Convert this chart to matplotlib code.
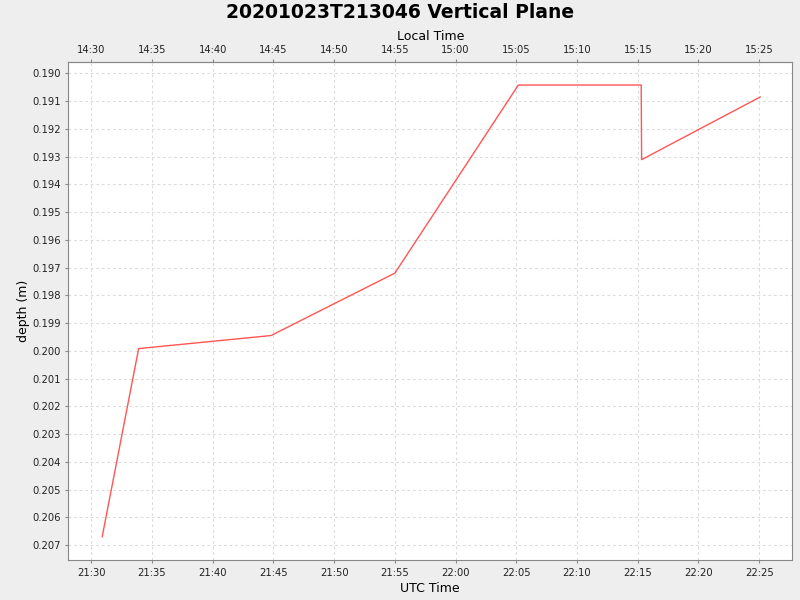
import datetime as dt
import matplotlib
matplotlib.use('Agg')
import matplotlib.pyplot as plt
import matplotlib.dates as mdates

title = '20201023T213046 Vertical Plane'
utc_times = ['21:30:54', '21:33:54', '21:44:48', '21:55:00',
             '22:05:10', '22:15:17', '22:15:19', '22:25:05']
depths = [0.20670, 0.19992, 0.19945, 0.19720,
          0.19042, 0.19042, 0.19311, 0.19085]
local_offset_hours = -7

day = dt.date(2020, 10, 23)
times = [dt.datetime.combine(day, dt.time.fromisoformat(t)) for t in utc_times]

fig = plt.figure(figsize=(8, 6), dpi=100, facecolor='#eeeeee')
ax = fig.add_axes([0.0855, 0.0667, 0.9045, 0.8295])
ax.set_facecolor('white')

ax.plot(times, depths, color='#ff5555', lw=1.0)

ax.set_xlim(dt.datetime(2020, 10, 23, 21, 28, 7), dt.datetime(2020, 10, 23, 22, 27, 42))
ax.set_ylim(0.20754, 0.18960)
ax.set_yticks([0.190 + 0.001 * i for i in range(18)])
ax.yaxis.set_major_formatter(matplotlib.ticker.FormatStrFormatter('%.3f'))
ax.xaxis.set_major_locator(mdates.MinuteLocator(byminute=range(0, 60, 5)))
ax.xaxis.set_major_formatter(mdates.DateFormatter('%H:%M'))

ax.grid(True, color='#dcdcdc', linestyle=(0, (2.5, 2.5)), lw=0.8)
for s in ax.spines.values():
    s.set_color('#888888')
ax.tick_params(labelsize=7.2, length=2, color='#888888', labelcolor='#222222', pad=4)
ax.tick_params(axis='y', pad=3.5)

off = local_offset_hours / 24
top = ax.secondary_xaxis('top', functions=(lambda x: x + off, lambda x: x - off))
top.xaxis.set_major_locator(mdates.MinuteLocator(byminute=range(0, 60, 5)))
top.xaxis.set_major_formatter(mdates.DateFormatter('%H:%M'))
top.tick_params(labelsize=7.2, length=2, color='#888888', labelcolor='#222222', pad=3)
top.spines['top'].set_color('#888888')
top.set_xlabel('Local Time', fontsize=9, labelpad=4)

ax.set_xlabel('UTC Time', fontsize=9, labelpad=3)
ax.set_ylabel('depth (m)', fontsize=9)
ax.yaxis.set_label_coords(-0.053, 0.5)
fig.suptitle(title, fontsize=13.5, fontweight='bold', y=0.995)

fig.savefig('out.png', dpi=100, facecolor=fig.get_facecolor())
